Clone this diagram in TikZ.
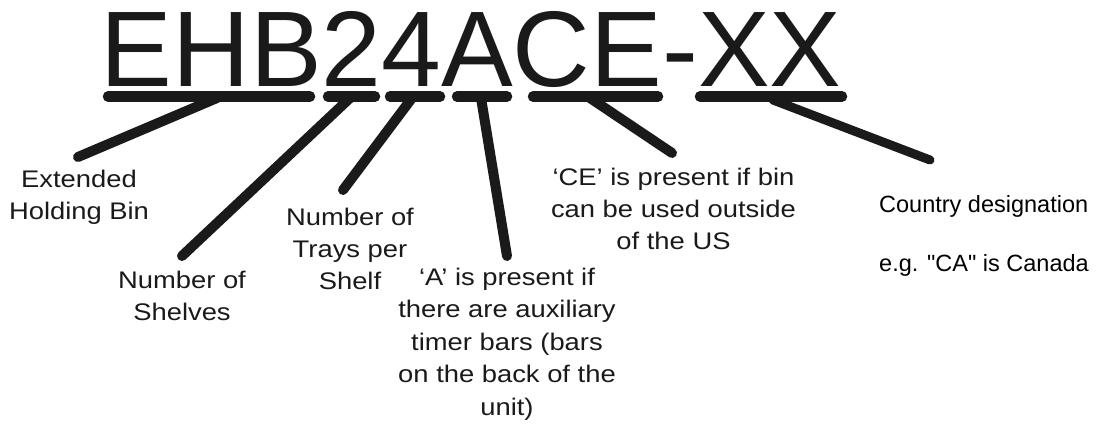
\documentclass[tikz,border=0pt]{standalone}
\usepackage{fontspec}
\setmainfont{Liberation Sans}
\newfontfamily\lblfont[FakeStretch=1.14]{Liberation Sans}
\newfontfamily\ctyfont[Ligatures=TeXOff]{Liberation Sans}
\definecolor{ink}{RGB}{26,26,26}
\begin{document}
\begin{tikzpicture}[x=1pt,y=-1pt,
  bar/.style={line width=10.5pt, line cap=round, draw=ink},
  lead/.style={line width=10pt, line cap=round, draw=ink},
  lbl/.style={anchor=north, inner sep=0pt, align=center, text=ink,
    font=\lblfont\fontsize{24}{32.3}\selectfont},
  cty/.style={anchor=north west, inner sep=0pt, align=left, text=black,
    font=\ctyfont\fontsize{23.5}{30}\selectfont}]
\useasboundingbox[fill=white] (0,0) rectangle (1097,425);

% code
\node[anchor=base west, inner sep=0pt, text=ink,
  font=\fontsize{107.5}{110}\selectfont] (title) at (100.5,87) {EHB24ACE-XX};

% underline bars
\coordinate (b1l) at (108,96.5);  \coordinate (b1r) at (310,96.5);
\coordinate (b2l) at (328,96.5);  \coordinate (b2r) at (375,96.5);
\coordinate (b3l) at (390,96.5);  \coordinate (b3r) at (440,96.5);
\coordinate (b4l) at (457,96.5);  \coordinate (b4r) at (507,96.5);
\coordinate (b5l) at (533,96.5);  \coordinate (b5r) at (658,96.5);
\coordinate (b6l) at (700,96.5);  \coordinate (b6r) at (842,96.5);
\draw[bar] (b1l) -- (b1r);
\draw[bar] (b2l) -- (b2r);
\draw[bar] (b3l) -- (b3r);
\draw[bar] (b4l) -- (b4r);
\draw[bar] (b5l) -- (b5r);
\draw[bar] (b6l) -- (b6r);

% leader start points on the bars
\coordinate (s1) at (217,98);
\coordinate (s2) at (350,98);
\coordinate (s3) at (412,98);
\coordinate (s4) at (481,98);
\coordinate (s5) at (590,98);
\coordinate (s6) at (773,100);

% leader ends
\coordinate (e1) at (78,157);
\coordinate (e2) at (182,256);
\coordinate (e3) at (343,190);
\coordinate (e4) at (507,256);
\coordinate (e5) at (672,153);
\coordinate (e6) at (930,160);

\draw[lead] (s1) -- (e1);
\draw[lead] (s2) -- (e2);
\draw[lead] (s3) -- (e3);
\draw[lead] (s4) -- (e4);
\draw[lead] (s5) -- (e5);
\draw[lead, line width=9pt] (s6) -- (e6);

% labels
\node[lbl] (ehb) at (79,169.7) {Extended\\Holding Bin};
\node[lbl] (shelves) at (182,270.7) {Number of\\Shelves};
\node[lbl] (trays) at (350,207.7) {Number of\\Trays per\\Shelf};
\node[lbl, font=\lblfont\fontsize{24}{32.5}\selectfont] (aux) at (507,267.7)
  {‘A’ is present if\\there are auxiliary\\timer bars (bars\\on the back of the\\unit)};
\node[lbl, font=\lblfont\fontsize{24}{32}\selectfont] (ce) at (673.5,167.7)
  {‘CE’ is present if bin\\can be used outside\\of the US};
\node[cty] (country) at (879,195) {Country designation\\[29pt]e.g. "CA" is Canada};
\end{tikzpicture}
\end{document}
